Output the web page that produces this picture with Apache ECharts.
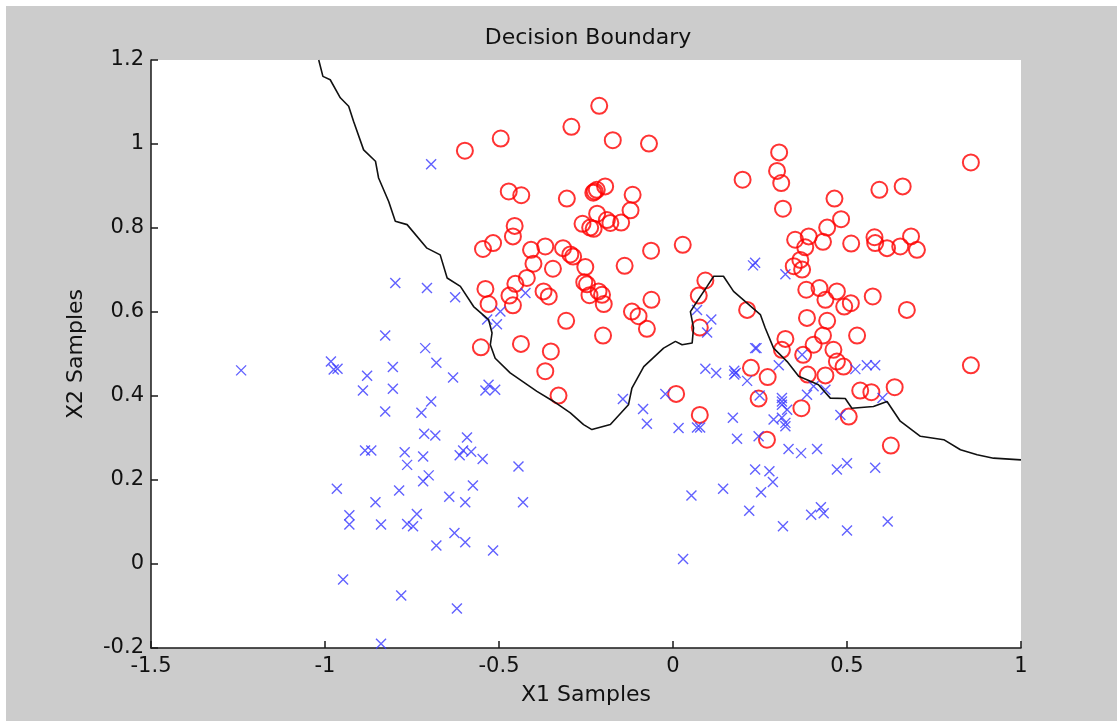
<!DOCTYPE html>
<html>
<head>
<meta charset="utf-8">
<title>Decision Boundary</title>
<script src="https://cdn.jsdelivr.net/npm/echarts@6/dist/echarts.min.js"></script>
<style>
  html, body { margin: 0; padding: 0; background: #cccccc; }
  #chart { width: 1117px; height: 721px; }
</style>
</head>
<body>
<div id="chart"></div>
<script>
// Class 1 samples (red circles): [x1, x2]
const positiveSamples = [
  [-0.212, 1.091], [-0.292, 1.041], [-0.495, 1.013], [-0.598, 0.984], [-0.173, 1.009],
  [-0.069, 1.001], [-0.472, 0.887], [-0.436, 0.878], [-0.305, 0.870], [-0.225, 0.887],
  [-0.195, 0.899], [-0.219, 0.891], [-0.229, 0.884], [-0.116, 0.879], [-0.122, 0.842],
  [-0.218, 0.834], [-0.260, 0.810], [-0.238, 0.801], [-0.228, 0.798], [-0.190, 0.819],
  [-0.180, 0.812], [-0.149, 0.813], [-0.455, 0.805], [-0.460, 0.780], [-0.517, 0.764],
  [-0.546, 0.750], [-0.408, 0.748], [-0.367, 0.756], [-0.316, 0.752], [-0.295, 0.737],
  [-0.287, 0.732], [-0.063, 0.746], [0.028, 0.760], [0.305, 0.980], [0.299, 0.936],
  [0.311, 0.907], [0.200, 0.915], [0.316, 0.846], [0.464, 0.870], [0.483, 0.821],
  [0.443, 0.801], [0.593, 0.891], [0.660, 0.899], [0.856, 0.956], [0.351, 0.772],
  [0.390, 0.780], [0.380, 0.754], [0.431, 0.767], [0.512, 0.763], [0.579, 0.778],
  [0.581, 0.764], [0.615, 0.752], [0.653, 0.756], [0.684, 0.780], [0.701, 0.748],
  [-0.401, 0.715], [-0.345, 0.703], [-0.252, 0.707], [-0.139, 0.710], [-0.420, 0.681],
  [-0.453, 0.667], [-0.470, 0.639], [-0.539, 0.655], [-0.530, 0.619], [-0.460, 0.616],
  [-0.372, 0.649], [-0.357, 0.637], [-0.255, 0.671], [-0.247, 0.666], [-0.240, 0.640],
  [-0.214, 0.649], [-0.204, 0.641], [-0.199, 0.619], [-0.062, 0.629], [-0.307, 0.579],
  [-0.201, 0.544], [-0.118, 0.601], [-0.099, 0.590], [-0.075, 0.560], [-0.552, 0.516],
  [-0.437, 0.524], [-0.351, 0.506], [-0.367, 0.459], [-0.329, 0.401], [0.093, 0.675],
  [0.074, 0.639], [0.077, 0.563], [0.009, 0.405], [0.077, 0.355], [0.213, 0.605],
  [0.347, 0.709], [0.366, 0.724], [0.371, 0.701], [0.383, 0.653], [0.421, 0.657],
  [0.438, 0.629], [0.471, 0.649], [0.492, 0.613], [0.511, 0.621], [0.574, 0.637],
  [0.672, 0.605], [0.385, 0.586], [0.443, 0.579], [0.529, 0.544], [0.323, 0.536],
  [0.313, 0.510], [0.431, 0.544], [0.404, 0.522], [0.461, 0.510], [0.374, 0.498],
  [0.471, 0.482], [0.490, 0.470], [0.387, 0.451], [0.438, 0.449], [0.224, 0.467],
  [0.272, 0.445], [0.246, 0.394], [0.369, 0.371], [0.538, 0.413], [0.570, 0.409],
  [0.637, 0.421], [0.505, 0.351], [0.856, 0.473], [0.270, 0.296], [0.626, 0.282]
];

// Class 0 samples (blue crosses): [x1, x2]
const negativeSamples = [
  [-0.695, 0.952], [-1.241, 0.461], [-0.983, 0.482], [-0.975, 0.463], [-0.964, 0.465],
  [-0.879, 0.448], [-0.891, 0.413], [-0.827, 0.544], [-0.798, 0.669], [-0.707, 0.657],
  [-0.712, 0.514], [-0.805, 0.469], [-0.805, 0.417], [-0.680, 0.479], [-0.827, 0.363],
  [-0.723, 0.360], [-0.695, 0.387], [-0.715, 0.310], [-0.683, 0.306], [-0.885, 0.270],
  [-0.867, 0.270], [-0.771, 0.266], [-0.718, 0.256], [-0.764, 0.236], [-0.702, 0.211],
  [-0.718, 0.197], [-0.966, 0.179], [-0.787, 0.175], [-0.855, 0.147], [-0.930, 0.116],
  [-0.930, 0.094], [-0.839, 0.094], [-0.764, 0.095], [-0.747, 0.090], [-0.736, 0.119],
  [-0.680, 0.044], [-0.948, -0.037], [-0.781, -0.075], [-0.839, -0.190], [-0.592, 0.301],
  [-0.603, 0.270], [-0.613, 0.259], [-0.580, 0.267], [-0.547, 0.250], [-0.444, 0.232],
  [-0.575, 0.187], [-0.643, 0.160], [-0.597, 0.147], [-0.431, 0.147], [-0.628, 0.074],
  [-0.597, 0.052], [-0.517, 0.032], [-0.621, -0.106], [0.053, 0.163], [0.144, 0.179],
  [0.029, 0.012], [0.184, 0.298], [0.246, 0.304], [0.332, 0.274], [0.368, 0.264],
  [0.414, 0.274], [0.236, 0.225], [0.277, 0.221], [0.287, 0.195], [0.253, 0.171],
  [0.471, 0.225], [0.500, 0.240], [0.581, 0.229], [0.219, 0.127], [0.316, 0.090],
  [0.397, 0.117], [0.425, 0.135], [0.433, 0.121], [0.500, 0.080], [0.617, 0.101],
  [-0.626, 0.635], [-0.424, 0.645], [-0.496, 0.601], [-0.534, 0.582], [-0.506, 0.571],
  [-0.632, 0.444], [-0.530, 0.427], [-0.539, 0.413], [-0.511, 0.415], [-0.144, 0.393],
  [-0.086, 0.369], [-0.075, 0.334], [0.016, 0.324], [0.069, 0.325], [0.078, 0.325],
  [-0.022, 0.405], [0.093, 0.465], [0.124, 0.455], [0.069, 0.605], [0.110, 0.582],
  [0.098, 0.551], [0.236, 0.717], [0.230, 0.711], [0.323, 0.690], [0.236, 0.514],
  [0.240, 0.514], [0.176, 0.460], [0.180, 0.455], [0.176, 0.451], [0.213, 0.436],
  [0.304, 0.473], [0.371, 0.498], [0.249, 0.401], [0.313, 0.395], [0.313, 0.387],
  [0.313, 0.379], [0.328, 0.367], [0.289, 0.344], [0.313, 0.348], [0.323, 0.336],
  [0.323, 0.328], [0.172, 0.348], [0.385, 0.403], [0.404, 0.423], [0.438, 0.415],
  [0.524, 0.464], [0.557, 0.473], [0.581, 0.473], [0.481, 0.355], [0.602, 0.395]
];

// Contour of the classifier where the decision value crosses zero
const boundaryX1 = [
  -1.018, -1.006, -0.985, -0.956, -0.932, -0.918, -0.889, -0.855, -0.846, -0.817,
  -0.798, -0.764, -0.707, -0.669, -0.649, -0.611, -0.573, -0.530, -0.520, -0.525,
  -0.511, -0.468, -0.391, -0.343, -0.295, -0.257, -0.233, -0.180, -0.128, -0.118,
  -0.084, -0.027, 0.007, 0.026, 0.055, 0.059, 0.050, 0.069, 0.098, 0.117,
  0.145, 0.174, 0.251, 0.265, 0.289, 0.328, 0.361, 0.395, 0.418, 0.452,
  0.495, 0.514, 0.576, 0.615, 0.653, 0.711, 0.778, 0.826, 0.874, 0.921, 1.000
];
const boundaryX2 = [
  1.200, 1.161, 1.153, 1.110, 1.090, 1.054, 0.986, 0.959, 0.919, 0.863,
  0.816, 0.808, 0.752, 0.736, 0.681, 0.661, 0.613, 0.582, 0.550, 0.522,
  0.490, 0.455, 0.411, 0.387, 0.360, 0.332, 0.320, 0.332, 0.379, 0.419,
  0.470, 0.514, 0.530, 0.522, 0.526, 0.562, 0.601, 0.625, 0.661, 0.685,
  0.685, 0.649, 0.594, 0.562, 0.514, 0.482, 0.447, 0.435, 0.427, 0.395,
  0.394, 0.371, 0.375, 0.387, 0.340, 0.304, 0.296, 0.272, 0.260, 0.252, 0.248
];

// Axis tick labels
const xTickLabels = ['-1.5', '-1', '-0.5', '0', '0.5', '1'];
const yTickLabels = ['-0.2', '0', '0.2', '0.4', '0.6', '0.8', '1', '1.2'];

const X_MIN = -1.5, X_MAX = 1, X_STEP = 0.5;
const Y_MIN = -0.2, Y_MAX = 1.2, Y_STEP = 0.2;

const FONT = 'DejaVu Sans';
const TEXT_COLOR = '#111111';

const boundaryData = boundaryX1.map((x, i) => [x, boundaryX2[i]]);

const chart = echarts.init(document.getElementById('chart'), null, { renderer: 'canvas' });

const axisCommon = {
  axisLine: { show: true, onZero: false, lineStyle: { color: '#1a1a1a', width: 1.5 } },
  axisTick: { show: true, inside: true, length: 7, lineStyle: { color: '#1a1a1a', width: 1.5 } },
  splitLine: { show: false },
  nameTextStyle: { fontFamily: FONT, fontSize: 22, color: TEXT_COLOR }
};

chart.setOption({
  animation: false,
  backgroundColor: '#cccccc',
  title: {
    text: 'Decision Boundary',
    left: 583,
    top: 22,
    textAlign: 'center',
    textStyle: { fontFamily: FONT, fontSize: 22, fontWeight: 'normal', color: TEXT_COLOR }
  },
  graphic: [
    // thin white frame along the top and left edges of the figure window
    { type: 'rect', shape: { x: 0, y: 0, width: 1117, height: 6 }, style: { fill: '#ffffff' }, silent: true },
    { type: 'rect', shape: { x: 0, y: 0, width: 6, height: 721 }, style: { fill: '#ffffff' }, silent: true }
  ],
  grid: {
    left: 151, right: 96, top: 60, bottom: 73,
    show: true, backgroundColor: '#ffffff', borderWidth: 0
  },
  xAxis: Object.assign({}, axisCommon, {
    type: 'value',
    min: X_MIN, max: X_MAX, interval: X_STEP,
    name: 'X1 Samples',
    nameLocation: 'middle',
    nameGap: 36,
    axisLabel: {
      margin: 8,
      fontFamily: FONT, fontSize: 21, color: TEXT_COLOR,
      formatter: v => xTickLabels[Math.round((v - X_MIN) / X_STEP)]
    }
  }),
  yAxis: Object.assign({}, axisCommon, {
    type: 'value',
    min: Y_MIN, max: Y_MAX, interval: Y_STEP,
    name: 'X2 Samples',
    nameLocation: 'middle',
    nameGap: 64,
    axisLabel: {
      margin: 7,
      fontFamily: FONT, fontSize: 21, color: TEXT_COLOR,
      formatter: v => yTickLabels[Math.round((v - Y_MIN) / Y_STEP)]
    }
  }),
  series: [
    {
      name: 'Class 1',
      type: 'scatter',
      data: positiveSamples,
      symbol: 'circle',
      symbolSize: 16,
      itemStyle: { color: 'rgba(0,0,0,0)', borderColor: '#ff0000', borderWidth: 2 },
      z: 2
    },
    {
      name: 'Class 0',
      type: 'scatter',
      data: negativeSamples,
      symbol: 'path://M0,0L10,10M10,0L0,10',
      symbolSize: 10,
      itemStyle: { color: 'rgba(0,0,0,0)', borderColor: '#3a3aff', borderWidth: 1.4 },
      z: 3
    },
    {
      name: 'Boundary',
      type: 'line',
      data: boundaryData,
      showSymbol: false,
      symbol: 'none',
      lineStyle: { color: '#111111', width: 1.6 },
      z: 4
    }
  ]
});
</script>
</body>
</html>
